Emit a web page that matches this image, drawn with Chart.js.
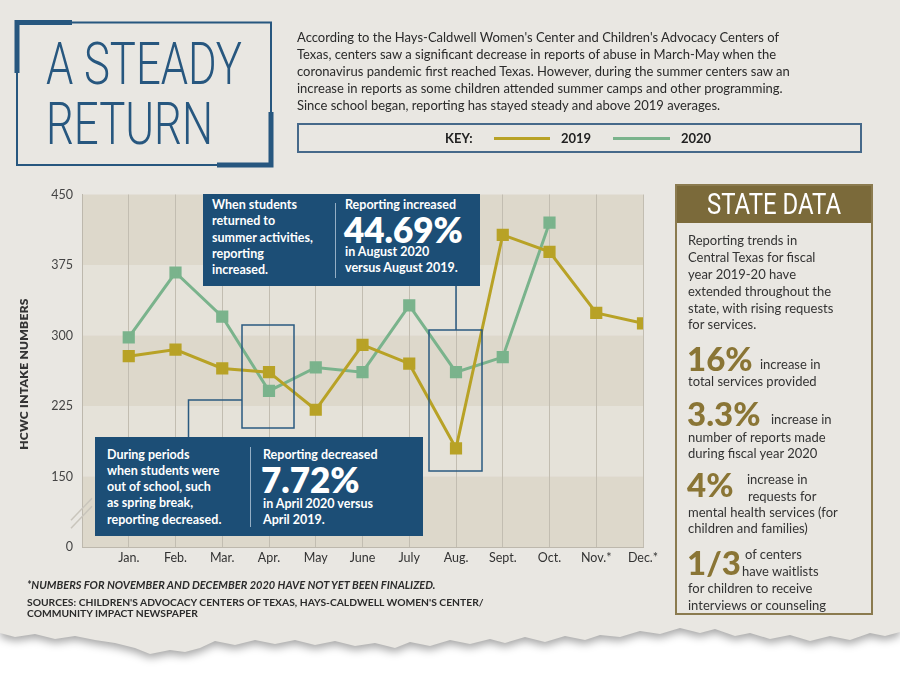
<!DOCTYPE html>
<html>
<head>
<meta charset="utf-8">
<script src="https://cdn.jsdelivr.net/npm/chart.js@4.4.1/dist/chart.umd.min.js"></script>
<style>
  html, body { margin: 0; padding: 0; background: #fff; }
  body { width: 900px; height: 673px; position: relative; overflow: hidden; font-family: Lato, "Noto Sans", sans-serif; }
  #shadow { position: absolute; left: 0; top: 0; width: 900px; height: 673px; filter: drop-shadow(0 4px 4px rgba(0,0,0,0.35)); }
  #paper {
    position: absolute; left: 0; top: 0; width: 900px; height: 673px;
    background: #e9e7e2;
    clip-path: polygon(0 0, 900px 0, 900px 632px, 885px 636px, 870px 633px, 850px 640px, 830px 636px, 810px 641px, 790px 635px, 770px 639px, 750px 633px, 735px 636px, 715px 629px, 700px 633px, 680px 628px, 660px 634px, 640px 631px, 620px 637px, 600px 635px, 585px 640px, 565px 636px, 545px 642px, 525px 637px, 505px 643px, 490px 639px, 470px 644px, 450px 640px, 430px 646px, 410px 642px, 395px 648px, 375px 643px, 355px 646px, 335px 641px, 315px 645px, 295px 640px, 275px 644px, 255px 640px, 235px 645px, 215px 641px, 200px 648px, 185px 652px, 170px 650px, 150px 654px, 135px 648px, 115px 643px, 95px 640px, 75px 636px, 55px 639px, 35px 634px, 15px 637px, 0 633px);
  }
  .abs { position: absolute; white-space: nowrap; }
  .title { font-family: Roboto, sans-serif; font-weight: 300; color: #27577f; font-size: 60px; line-height: 60px; transform-origin: left center; }
  #intro { left: 297px; top: 29px; font-size: 13px; line-height: 17px; color: #2a2a2a; }
  #key { left: 297px; top: 123px; width: 565px; height: 30px; border: 2px solid #46698a; box-sizing: border-box; }
  .keytxt { font-weight: 700; font-size: 13px; color: #222; line-height: 16px; }
  .keyline { height: 3px; }
  #ytitle { left: 23px; top: 374px; transform: translate(-50%, -50%) rotate(-90deg); font-weight: 800; font-size: 12px; color: #333; letter-spacing: 0.3px; }
  #chartwrap { position: absolute; left: 40px; top: 178px; width: 640px; height: 402px; }
  #chartwrap canvas { display: block; }
  .box { position: absolute; background: #1c4e76; color: #fff; }
  .box .t { position: absolute; white-space: nowrap; font-weight: 700; font-size: 12.5px; line-height: 16px; }
  .box .big { position: absolute; white-space: nowrap; font-weight: 800; font-size: 35px; line-height: 32px; }
  .box .div { position: absolute; width: 1px; background: rgba(200,215,230,0.7); }
  #state { left: 675px; top: 184px; width: 198px; height: 431px; border: 2px solid #8b7b4f; box-sizing: border-box; }
  #statehead { position: absolute; left: 0; top: 0; width: 194px; height: 37px; background: #7b6a3a; }
  .st { position: absolute; white-space: nowrap; font-size: 13px; line-height: 17px; color: #333; }
  .sbig { position: absolute; white-space: nowrap; font-size: 33px; line-height: 30px; font-weight: 900; color: #8a7535; }
  .foot { position: absolute; white-space: nowrap; font-size: 10.3px; line-height: 11px; color: #2b2b2b; font-weight: 700; }
</style>
</head>
<body>
<div id="shadow"><div id="paper">

  <!-- title frame -->
  <svg class="abs" style="left:0;top:0" width="300" height="180">
    <rect x="17" y="22.5" width="254" height="142.5" fill="none" stroke="#27577f" stroke-width="2"/>
    <path d="M17 73 V22.5 H72" fill="none" stroke="#27577f" stroke-width="5"/>
    <path d="M217 165 H271 V112" fill="none" stroke="#27577f" stroke-width="5"/>
  </svg>
  <div class="abs title" data-fit="196" style="left:46px;top:34px">A STEADY</div>
  <div class="abs title" data-fit="167" style="left:46px;top:94px">RETURN</div>

  <div class="abs" id="intro">According to the Hays-Caldwell Women's Center and Children's Advocacy Centers of<br>Texas, centers saw a significant decrease in reports of abuse in March-May when the<br>coronavirus pandemic first reached Texas. However, during the summer centers saw an<br>increase in reports as some children attended summer camps and other programming.<br>Since school began, reporting has stayed steady and above 2019 averages.</div>

  <div class="abs" id="key">
    <div class="abs keytxt" style="left:146px;top:5px">KEY:</div>
    <div class="abs keyline" style="left:195px;top:12px;width:56px;background:#b8a226"></div>
    <div class="abs keytxt" style="left:262px;top:5px">2019</div>
    <div class="abs keyline" style="left:314px;top:12px;width:57px;background:#7ab38c"></div>
    <div class="abs keytxt" style="left:382px;top:5px">2020</div>
  </div>

  <div class="abs" id="ytitle">HCWC INTAKE NUMBERS</div>

  <div id="chartwrap"><canvas id="chart" width="640" height="402"></canvas></div>

  <!-- highlight frames and connectors -->
  <svg class="abs" style="left:0;top:0" width="900" height="673">
    <rect x="242" y="325" width="52" height="103" fill="none" stroke="#2a5a80" stroke-width="1.5"/>
    <polyline points="242,400 188.5,400 188.5,437" fill="none" stroke="#2a5a80" stroke-width="1.5"/>
    <rect x="429" y="330" width="53" height="141" fill="none" stroke="#2a5a80" stroke-width="1.5"/>
    <line x1="456" y1="286" x2="456" y2="330" stroke="#2a5a80" stroke-width="1.5"/>
  </svg>

  <div class="box" style="left:203px;top:194px;width:277px;height:92px">
    <div class="t" style="left:9px;top:3px">When students</div>
    <div class="t" style="left:9px;top:19px">returned to</div>
    <div class="t" style="left:9px;top:36px">summer activities,</div>
    <div class="t" style="left:9px;top:52px">reporting</div>
    <div class="t" style="left:9px;top:68px">increased.</div>
    <div class="div" style="left:132px;top:9px;height:75px"></div>
    <div class="t" style="left:142px;top:3px">Reporting increased</div>
    <div class="big" style="left:141px;top:19px">44.69%</div>
    <div class="t" style="left:142px;top:50px">in August 2020</div>
    <div class="t" style="left:142px;top:66px">versus August 2019.</div>
  </div>

  <div class="box" style="left:95px;top:437px;width:328px;height:99px">
    <div class="t" style="left:12px;top:10px">During periods</div>
    <div class="t" style="left:12px;top:26px">when students were</div>
    <div class="t" style="left:12px;top:42px">out of school, such</div>
    <div class="t" style="left:12px;top:58px">as spring break,</div>
    <div class="t" style="left:12px;top:75px">reporting decreased.</div>
    <div class="div" style="left:155px;top:10px;height:80px"></div>
    <div class="t" style="left:168px;top:10px">Reporting decreased</div>
    <div class="big" style="left:166px;top:26px">7.72%</div>
    <div class="t" style="left:168px;top:59px">in April 2020 versus</div>
    <div class="t" style="left:168px;top:75px">April 2019.</div>
  </div>

  <!-- state data panel -->
  <div class="abs" id="state">
    <div id="statehead"></div>
    <div class="abs title" data-fit="134" data-center="97" style="color:#fff;font-weight:400;font-size:30px;line-height:30px;top:3px;left:0">STATE DATA</div>
    <div class="st" style="left:11px;top:46px">Reporting trends in</div>
    <div class="st" style="left:11px;top:63px">Central Texas for fiscal</div>
    <div class="st" style="left:11px;top:80px">year 2019-20 have</div>
    <div class="st" style="left:11px;top:97px">extended throughout the</div>
    <div class="st" style="left:11px;top:114px">state, with rising requests</div>
    <div class="st" style="left:11px;top:130px">for services.</div>

    <div class="sbig" style="left:10px;top:157px">16%</div>
    <div class="st" style="left:83px;top:170px">increase in</div>
    <div class="st" style="left:11px;top:187px">total services provided</div>

    <div class="sbig" style="left:10px;top:212px">3.3%</div>
    <div class="st" style="left:94px;top:225px">increase in</div>
    <div class="st" style="left:11px;top:243px">number of reports made</div>
    <div class="st" style="left:11px;top:259px">during fiscal year 2020</div>

    <div class="sbig" style="left:10px;top:283px">4%</div>
    <div class="st" style="left:70px;top:285px">increase in</div>
    <div class="st" style="left:71px;top:302px">requests for</div>
    <div class="st" style="left:11px;top:318px">mental health services (for</div>
    <div class="st" style="left:11px;top:334px">children and families)</div>

    <div class="sbig" style="left:10px;top:361px">1/3</div>
    <div class="st" style="left:68px;top:360px">of centers</div>
    <div class="st" style="left:65px;top:377px">have waitlists</div>
    <div class="st" style="left:11px;top:394px">for children to receive</div>
    <div class="st" style="left:11px;top:411px">interviews or counseling</div>
  </div>

  <div class="foot" style="left:27px;top:579px;font-style:italic;font-size:11px">*NUMBERS FOR NOVEMBER AND DECEMBER 2020 HAVE NOT YET BEEN FINALIZED.</div>
  <div class="foot" style="left:27px;top:597px">SOURCES: CHILDREN'S ADVOCACY CENTERS OF TEXAS, HAYS-CALDWELL WOMEN'S CENTER/</div>
  <div class="foot" style="left:27px;top:608px">COMMUNITY IMPACT NEWSPAPER</div>

</div></div>

<script>
// Monthly HCWC intake numbers
const months = ['Jan.', 'Feb.', 'Mar.', 'Apr.', 'May', 'June', 'July', 'Aug.', 'Sept.', 'Oct.', 'Nov.*', 'Dec.*'];
const intake2019 = [278, 285, 265, 261, 221, 290, 270, 180, 407, 389, 324, 313];
const intake2020 = [298, 367, 320, 241, 266, 261, 332, 261, 277, 420, null, null];

// y axis is broken: the slot below 150 is labelled 0
const yTicks = [75, 150, 225, 300, 375, 450];
const yTickLabels = ['0', '150', '225', '300', '375', '450'];

const gold = '#b8a226';
const green = '#7ab38c';

function toPoints(values) {
    return values.map((v, i) => ({ x: i + 1, y: v }));
}

// alternating horizontal bands behind the plot
const bandsPlugin = {
    id: 'bands',
    beforeDraw(chart) {
        const { ctx, chartArea, scales } = chart;
        const y = scales.y;
        ctx.save();
        for (let i = 0; i < yTicks.length - 1; i++) {
            const top = y.getPixelForValue(yTicks[yTicks.length - 1 - i]);
            const bottom = y.getPixelForValue(yTicks[yTicks.length - 2 - i]);
            ctx.fillStyle = i % 2 === 0 ? '#ddd8cb' : '#e5e2d9';
            ctx.fillRect(chartArea.left, top, chartArea.right - chartArea.left, bottom - top);
        }
        ctx.restore();
    }
};

// the // marks on the y axis break
const breakPlugin = {
    id: 'axisBreak',
    afterDraw(chart) {
        const { ctx, chartArea, scales } = chart;
        const cy = scales.y.getPixelForValue(112);
        const x = chartArea.left;
        ctx.save();
        ctx.strokeStyle = '#c9c5bc';
        ctx.lineWidth = 1.5;
        [-4, 4].forEach(d => {
            ctx.beginPath();
            ctx.moveTo(x - 11, cy + 12 + d);
            ctx.lineTo(x + 10, cy - 10 + d);
            ctx.stroke();
        });
        ctx.restore();
    }
};

Chart.defaults.font.family = 'Lato, "Noto Sans", sans-serif';

const config = {
    type: 'line',
    data: {
        datasets: [{
            label: '2019',
            data: toPoints(intake2019),
            borderColor: gold,
            backgroundColor: gold,
            borderWidth: 3
        }, {
            label: '2020',
            data: toPoints(intake2020),
            borderColor: green,
            backgroundColor: green,
            borderWidth: 3
        }]
    },
    options: {
        responsive: false,
        animation: false,
        layout: { autoPadding: false, padding: { top: 10, right: 37, left: 0, bottom: 0 } },
        elements: {
            line: { tension: 0 },
            point: { pointStyle: 'rect', radius: 6.5, borderWidth: 0 }
        },
        plugins: {
            legend: { display: false },
            tooltip: { enabled: false }
        },
        scales: {
            x: {
                type: 'linear',
                min: 0,
                max: 12,
                afterFit: s => { s.height = 33; },
                afterBuildTicks: s => { s.ticks = months.map((m, i) => ({ value: i + 1 })).concat([{ value: 0 }]); },
                grid: { color: '#c2bdb1', lineWidth: 1, drawTicks: false },
                border: { color: '#bdb8ad' },
                ticks: {
                    padding: 3,
                    color: '#333',
                    font: { size: 12.5 },
                    maxRotation: 0,
                    autoSkip: false,
                    callback: v => months[v - 1] || ''
                }
            },
            y: {
                min: yTicks[0],
                max: yTicks[yTicks.length - 1],
                afterFit: s => { s.width = 42; },
                afterBuildTicks: s => { s.ticks = yTicks.map(v => ({ value: v })); },
                grid: { display: false, drawTicks: false },
                border: { color: '#bdb8ad' },
                ticks: {
                    padding: 9,
                    color: '#444',
                    font: { size: 12.5 },
                    callback: v => yTickLabels[yTicks.indexOf(v)]
                }
            }
        }
    },
    plugins: [bandsPlugin, breakPlugin]
};

window.onload = function() {
    // squeeze condensed headline texts to their widths
    document.querySelectorAll('[data-fit]').forEach(el => {
        const w = el.getBoundingClientRect().width;
        const k = parseFloat(el.dataset.fit) / w;
        if (el.dataset.center) {
            el.style.left = (parseFloat(el.dataset.center) - parseFloat(el.dataset.fit) / 2) + 'px';
        }
        el.style.transform = 'scaleX(' + k + ')';
    });
    const ctx = document.getElementById('chart').getContext('2d');
    new Chart(ctx, config);
};
</script>
</body>
</html>
